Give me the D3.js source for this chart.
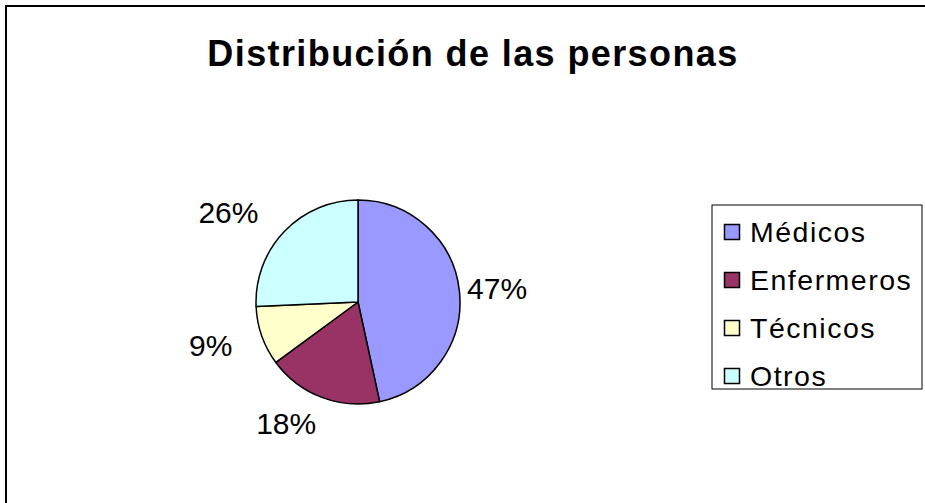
<!DOCTYPE html>
<html>
<head>
<meta charset="utf-8">
<script src="https://cdn.jsdelivr.net/npm/d3@7"></script>
<style>
  body { margin: 0; background: #fff; }
  svg { display: block; font-family: Arial, "Liberation Sans", sans-serif; }
</style>
</head>
<body>
<div id="chart"></div>
<script>
const titleText = "Distribución de las personas";
const categories = ["Médicos", "Enfermeros", "Técnicos", "Otros"];
const values = [46.6, 18.3, 9.4, 25.7];
const colors = ["#9999FF", "#993366", "#FFFFCC", "#CCFFFF"];

const width = 925, height = 503;
const cx = 358, cy = 302, radius = 102;

const svg = d3.select("#chart").append("svg")
    .attr("width", width)
    .attr("height", height);

svg.append("rect")
    .attr("width", width).attr("height", height)
    .attr("fill", "#fff");

// chart area border (right and bottom fall outside the picture)
svg.append("rect")
    .attr("x", 6).attr("y", 6)
    .attr("width", width + 20).attr("height", height + 20)
    .attr("fill", "none")
    .attr("stroke", "#000")
    .attr("stroke-width", 2);

svg.append("text")
    .attr("x", 473)
    .attr("y", 66)
    .attr("text-anchor", "middle")
    .attr("font-size", 36)
    .attr("font-weight", "bold")
    .attr("letter-spacing", 1.4)
    .text(titleText);

const data = categories.map((c, i) => ({ name: c, value: values[i], color: colors[i] }));
const total = d3.sum(values);

const pie = d3.pie().sort(null).value(d => d.value);
const arc = d3.arc().innerRadius(0).outerRadius(radius);
const arcs = pie(data);

const g = svg.append("g").attr("transform", `translate(${cx},${cy})`);

g.selectAll("path")
  .data(arcs)
  .enter().append("path")
    .attr("d", arc)
    .attr("fill", d => d.data.color)
    .attr("stroke", "#000")
    .attr("stroke-width", 1.5)
    .attr("stroke-linejoin", "round");

// percentage labels: a box sitting just outside the slice, text left-aligned in it
const fmt = d3.format(".0%");
const labelFont = 30;
const labelR = radius + 8;
g.selectAll("text.pct")
  .data(arcs)
  .enter().append("text")
    .attr("class", "pct")
    .attr("font-size", labelFont)
    .text(d => fmt(d.data.value / total))
    .each(function(d) {
        const a = (d.startAngle + d.endAngle) / 2;
        const dx = Math.sin(a), dy = -Math.cos(a);
        const boxW = this.getComputedTextLength() * 1.55, boxH = 40;
        const bx = dx * labelR + dx * boxW / 2;
        const by = dy * labelR + dy * boxH / 2;
        d3.select(this)
            .attr("x", bx - boxW / 2)
            .attr("y", by + labelFont * 0.36);
    });

// legend
const legend = svg.append("g");
legend.append("rect")
    .attr("x", 712).attr("y", 205)
    .attr("width", 210).attr("height", 184)
    .attr("fill", "#fff")
    .attr("stroke", "#000")
    .attr("stroke-width", 1);

const rowY = d3.scalePoint().domain(categories).range([232, 376]);

const item = legend.selectAll("g.item")
  .data(data)
  .enter().append("g")
    .attr("class", "item")
    .attr("transform", d => `translate(0,${rowY(d.name)})`);

item.append("rect")
    .attr("x", 724.5).attr("y", -7.5)
    .attr("width", 15).attr("height", 15)
    .attr("fill", d => d.color)
    .attr("stroke", "#000")
    .attr("stroke-width", 1.5);

item.append("text")
    .attr("x", 750)
    .attr("y", 10)
    .attr("font-size", 28.5)
    .attr("letter-spacing", 1.5)
    .text(d => d.name);
</script>
</body>
</html>
